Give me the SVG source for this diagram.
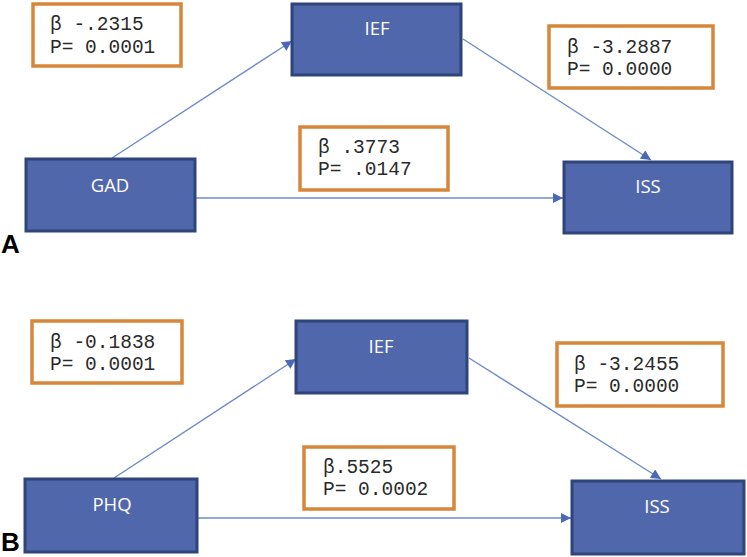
<svg xmlns="http://www.w3.org/2000/svg" width="747" height="557" viewBox="0 0 747 557">
<style>
.node rect{fill:#5167AB;stroke:#2F4478;stroke-width:3}
.node text{fill:#FFFFFF;font-family:"Open Sans","Noto Sans",sans-serif;font-size:18.5px;text-anchor:middle}
.lbl rect{fill:#FFFFFF;stroke:#D6873B;stroke-width:3.5}
.lbl text{fill:#2A2A2A;font-family:"Liberation Mono","Courier New",monospace;font-size:19.5px}
.conn line{stroke:#6E8BC8;stroke-width:1.4;fill:none}
.panel{font-family:"Liberation Sans",Arial,sans-serif;font-weight:bold;font-size:26px;fill:#000}
</style>
<defs>
<marker id="ah" viewBox="0 0 10 10" refX="10" refY="5" markerWidth="11" markerHeight="10" markerUnits="userSpaceOnUse" orient="auto">
<path d="M0,0 L10,5 L0,10 z" fill="#4A68B5"/>
</marker>
</defs>
<rect x="0" y="0" width="747" height="557" fill="#FFFFFF"/>

<g id="connectors" class="conn">
<line x1="112" y1="158" x2="292" y2="41" marker-end="url(#ah)"/>
<line x1="463" y1="39" x2="651" y2="160" marker-end="url(#ah)"/>
<line x1="196" y1="198" x2="563" y2="198" marker-end="url(#ah)"/>
<line x1="114" y1="478" x2="296" y2="359" marker-end="url(#ah)"/>
<line x1="469" y1="358" x2="661" y2="479" marker-end="url(#ah)"/>
<line x1="198" y1="518" x2="571" y2="518" marker-end="url(#ah)"/>
</g>

<g id="node-IEF-A" class="node"><rect x="292" y="4" width="169" height="71"/><text x="377" y="35">IEF</text></g>
<g id="node-GAD" class="node"><rect x="26" y="159" width="169" height="72"/><text x="110" y="192">GAD</text></g>
<g id="node-ISS-A" class="node"><rect x="564" y="162" width="168" height="71"/><text x="648" y="193">ISS</text></g>

<g id="lbl-A1" class="lbl"><rect x="33" y="4" width="148" height="62"/><text x="50" y="30">β -.2315</text><text x="50" y="53">P= 0.0001</text></g>
<g id="lbl-A2" class="lbl"><rect x="300" y="127" width="148" height="63"/><text x="318" y="153">β .3773</text><text x="318" y="175">P= .0147</text></g>
<g id="lbl-A3" class="lbl"><rect x="549" y="26" width="164" height="62"/><text x="567" y="53">β -3.2887</text><text x="567" y="75">P= 0.0000</text></g>

<text class="panel" x="1" y="253">A</text>

<g id="node-IEF-B" class="node"><rect x="296" y="321" width="171" height="72"/><text x="381" y="353">IEF</text></g>
<g id="node-PHQ" class="node"><rect x="25" y="479" width="172" height="73"/><text x="112" y="511">PHQ</text></g>
<g id="node-ISS-B" class="node"><rect x="572" y="481" width="172" height="73"/><text x="657" y="513">ISS</text></g>

<g id="lbl-B1" class="lbl"><rect x="32" y="321" width="150" height="62"/><text x="50" y="348">β -0.1838</text><text x="50" y="370">P= 0.0001</text></g>
<g id="lbl-B2" class="lbl"><rect x="304" y="447" width="150" height="62"/><text x="323" y="473">β.5525</text><text x="323" y="495">P= 0.0002</text></g>
<g id="lbl-B3" class="lbl"><rect x="557" y="343" width="166" height="63"/><text x="574" y="370">β -3.2455</text><text x="574" y="392">P= 0.0000</text></g>

<text class="panel" x="1" y="551">B</text>
</svg>
